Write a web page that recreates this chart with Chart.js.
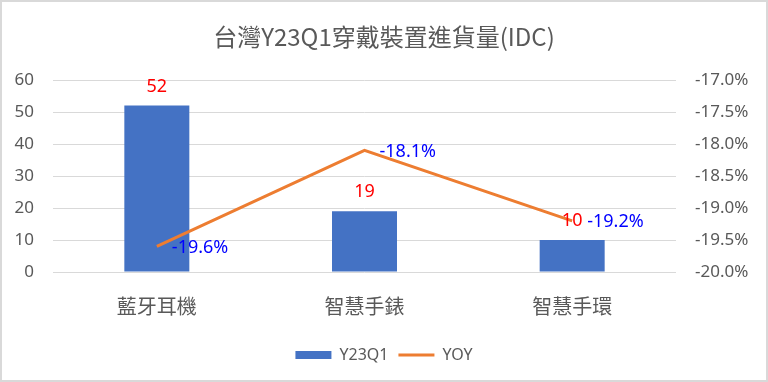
<!DOCTYPE html>
<html><head><meta charset="utf-8">
<script src="https://cdn.jsdelivr.net/npm/chart.js@4/dist/chart.umd.min.js"></script>
<style>html,body{margin:0;padding:0;background:#fff}#wrap{width:768px;height:382px}</style>
</head><body><div id="wrap"><canvas id="c" width="768" height="382"></canvas></div>
<script>
const chartTitle = '台灣Y23Q1穿戴裝置進貨量(IDC)';
const categories = ['藍牙耳機', '智慧手錶', '智慧手環'];
const seriesNames = ['Y23Q1', 'YOY'];
const shipments = [52, 19, 10];
const yoyPercent = [-19.6, -18.1, -19.2];
const leftTickRange = [0, 60, 10];
const rightTickRange = [-20, -17, 0.5];

const GRAY = '#595959';
const FONT = "'Noto Sans', 'Noto Sans CJK TC', sans-serif";

const framePlugin = {
  id: 'frame',
  beforeDraw(chart) {
    const ctx = chart.ctx;
    ctx.save();
    ctx.fillStyle = '#fff';
    ctx.fillRect(0, 0, chart.width, chart.height);
    ctx.strokeStyle = '#d9d9d9';
    ctx.lineWidth = 2;
    ctx.strokeRect(1, 1, chart.width - 2, chart.height - 2);
    ctx.restore();
  }
};

const labelPlugin = {
  id: 'valueLabels',
  afterDatasetsDraw(chart) {
    const ctx = chart.ctx;
    ctx.save();
    ctx.font = '18px ' + FONT;
    ctx.textBaseline = 'middle';
    const barMeta = chart.getDatasetMeta(0);
    ctx.fillStyle = '#FF0000';
    ctx.textAlign = 'center';
    barMeta.data.forEach((el, i) => {
      ctx.fillText(String(shipments[i]), el.x, el.y - 19);
    });
    const lineMeta = chart.getDatasetMeta(1);
    ctx.fillStyle = '#0000FF';
    ctx.textAlign = 'left';
    lineMeta.data.forEach((el, i) => {
      ctx.fillText(yoyPercent[i].toFixed(1) + '%', el.x + 15, el.y + 1);
    });
    ctx.restore();
  }
};

new Chart(document.getElementById('c'), {
  data: {
    labels: categories,
    datasets: [
      {
        type: 'bar',
        label: seriesNames[0],
        data: shipments,
        backgroundColor: '#4472C4',
        borderWidth: 0,
        yAxisID: 'y',
        order: 2,
        pointStyle: 'rect',
        categoryPercentage: 1,
        barPercentage: 0.313
      },
      {
        type: 'line',
        label: seriesNames[1],
        data: yoyPercent,
        borderColor: '#ED7D31',
        backgroundColor: '#ED7D31',
        borderWidth: 3,
        pointRadius: 0,
        tension: 0,
        yAxisID: 'y1',
        order: 1,
        pointStyle: 'line'
      }
    ]
  },
  options: {
    responsive: false,
    animation: false,
    devicePixelRatio: 1,
    layout: { padding: { top: 0, left: 0, right: 0, bottom: 9 } },
    plugins: {
      tooltip: { enabled: false },
      title: {
        display: true,
        text: chartTitle,
        color: GRAY,
        font: { family: "'Noto Sans CJK TC', sans-serif", size: 24, weight: 'normal' },
        padding: { top: 22, bottom: 29.2 }
      },
      legend: {
        position: 'bottom',
        labels: {
          usePointStyle: true,
          pointStyleWidth: 36,
          boxHeight: 8,
          color: GRAY,
          font: { family: FONT, size: 16 },
          padding: 10,
          sort: (a, b) => a.datasetIndex - b.datasetIndex
        }
      }
    },
    scales: {
      x: {
        type: 'category',
        grid: { display: false, drawTicks: false },
        border: { display: false },
        ticks: { color: GRAY, font: { family: FONT, size: 20 }, padding: 24 },
        afterFit(s) { s.height = 65; }
      },
      y: {
        position: 'left',
        min: leftTickRange[0],
        max: leftTickRange[1],
        ticks: { stepSize: leftTickRange[2], color: GRAY, font: { family: FONT, size: 17 }, padding: 19 },
        grid: { color: '#d9d9d9', lineWidth: 1, drawTicks: false },
        border: { display: false },
        afterFit(s) { s.width = 53; }
      },
      y1: {
        position: 'right',
        min: rightTickRange[0],
        max: rightTickRange[1],
        ticks: {
          stepSize: rightTickRange[2],
          color: GRAY,
          font: { family: FONT, size: 17 },
          padding: 19,
          callback: v => Number(v).toFixed(1) + '%'
        },
        grid: { display: false, drawTicks: false },
        border: { display: false },
        afterFit(s) { s.width = 92; }
      }
    }
  },
  plugins: [framePlugin, labelPlugin]
});
</script>
</body></html>
